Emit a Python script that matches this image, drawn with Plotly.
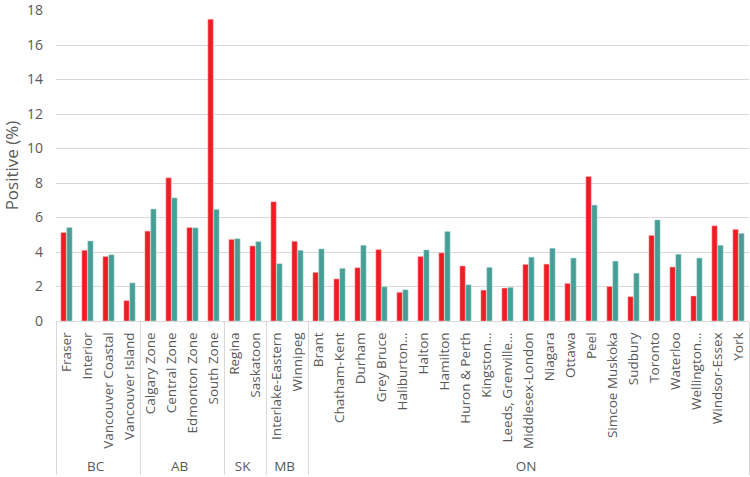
import plotly.graph_objects as go

provinces = ["BC"] * 4 + ["AB"] * 4 + ["SK"] * 2 + ["MB"] * 2 + ["ON"] * 21
regions = [
    "Fraser", "Interior", "Vancouver Coastal", "Vancouver Island",
    "Calgary Zone", "Central Zone", "Edmonton Zone", "South Zone",
    "Regina", "Saskatoon",
    "Interlake-Eastern", "Winnipeg",
    "Brant", "Chatham-Kent", "Durham", "Grey Bruce", "Haliburton…", "Halton",
    "Hamilton", "Huron & Perth", "Kingston…", "Leeds, Grenville…",
    "Middlesex-London", "Niagara", "Ottawa", "Peel", "Simcoe Muskoka",
    "Sudbury", "Toronto", "Waterloo", "Wellington…", "Windsor-Essex", "York",
]
red_vals = [
    5.13, 4.10, 3.74, 1.18,
    5.21, 8.30, 5.42, 17.49,
    4.73, 4.35,
    6.91, 4.62,
    2.82, 2.44, 3.09, 4.14, 1.66, 3.74, 3.95, 3.19, 1.79, 1.91,
    3.28, 3.30, 2.18, 8.38, 2.00, 1.41, 4.96, 3.13, 1.45, 5.52, 5.31,
]
teal_vals = [
    5.42, 4.64, 3.84, 2.21,
    6.49, 7.14, 5.40, 6.47,
    4.77, 4.60,
    3.32, 4.10,
    4.18, 3.05, 4.39, 1.98, 1.81, 4.12, 5.19, 2.10, 3.11, 1.95,
    3.70, 4.22, 3.65, 6.72, 3.47, 2.77, 5.86, 3.87, 3.65, 4.39, 5.08,
]

fig = go.Figure()
fig.add_trace(go.Bar(x=[provinces, regions], y=red_vals, name="red",
                     marker=dict(color="#EE1C25", line=dict(color="#fbb", width=0.5))))
fig.add_trace(go.Bar(x=[provinces, regions], y=teal_vals, name="teal",
                     marker=dict(color="#479E97", line=dict(color="#b8dcd8", width=0.5))))

fig.update_layout(
    width=750, height=477,
    margin=dict(l=56, r=1, t=10, b=156, autoexpand=False),
    plot_bgcolor="white", paper_bgcolor="white",
    showlegend=False,
    bargap=0.44, bargroupgap=0.08,
    font=dict(family="Open Sans", color="#595959"),
)
fig.update_yaxes(
    range=[0, 18.03], tick0=0, dtick=2, gridcolor="#d9d9d9", gridwidth=1,
    zeroline=False, tickfont=dict(size=14, color="#595959"),
    ticklabelstandoff=12, ticklabeloverflow="allow",
    title=dict(text="Positive (%)", font=dict(size=17, color="#595959"), standoff=6),
)
fig.update_xaxes(
    type="multicategory", range=[-0.5, 32.5],
    showline=True, linecolor="#d9d9d9", linewidth=1,
    tickangle=-90, tickfont=dict(size=13.5, color="#595959"),
    ticklabelstandoff=5,
    showdividers=True, dividercolor="#d9d9d9", dividerwidth=1,
)

# drop the browser's default 8px page margin so the figure sits at the window corner
fig.write_html("out.html", config={"displayModeBar": False},
               post_script="document.body.style.margin='0';")
